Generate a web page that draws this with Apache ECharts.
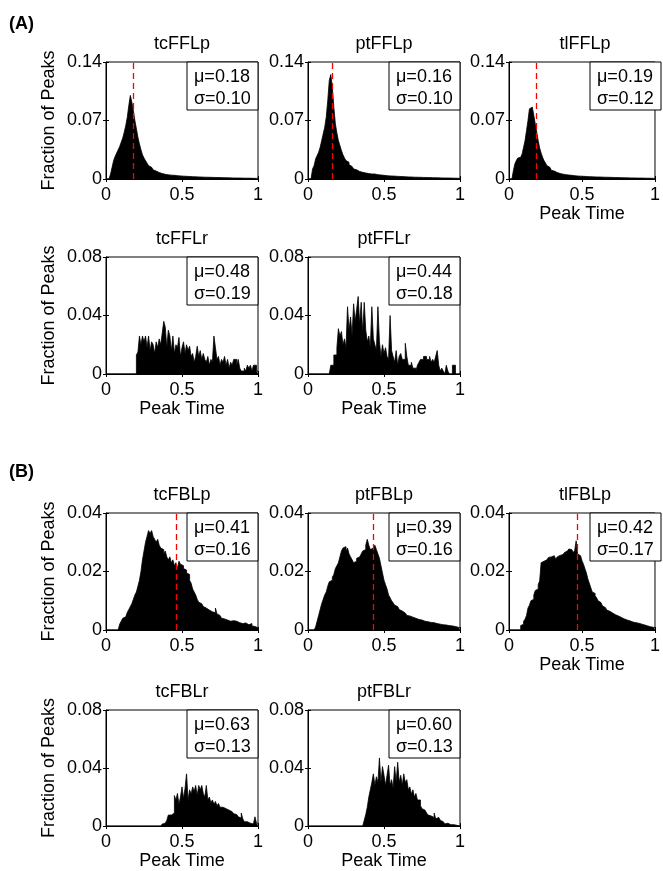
<!DOCTYPE html>
<html>
<head>
<meta charset="utf-8">
<script src="https://cdn.jsdelivr.net/npm/echarts@6/dist/echarts.min.js"></script>
<style>
html, body { margin: 0; padding: 0; background: #fff; }
#chart { width: 663px; height: 871px; }
</style>
</head>
<body>
<div id="chart"></div>
<script>
// bin width of every histogram (bins run 0..1)
var binWidth = 0.01;

var panelNames = ['tcFFLp', 'ptFFLp', 'tlFFLp', 'tcFFLr', 'ptFFLr', 'tcFBLp', 'ptFBLp', 'tlFBLp', 'tcFBLr', 'ptFBLr'];
var muValues = ['0.18', '0.16', '0.19', '0.48', '0.44', '0.41', '0.39', '0.42', '0.63', '0.60'];
var sigmaValues = ['0.10', '0.10', '0.12', '0.19', '0.18', '0.16', '0.16', '0.17', '0.13', '0.13'];
var redLineAt = [0.18, 0.16, 0.19, null, null, 0.46, 0.43, 0.47, null, null];
var xTicks = [0, 0.5, 1];
var yTicksByRow = [[0, 0.07, 0.14], [0, 0.04, 0.08], [0, 0.02, 0.04], [0, 0.04, 0.08]];

var tcFFLp = [0,0,0,0.006,0.014,0.022,0.027,0.031,0.035,0.039,
	0.044,0.049,0.056,0.064,0.074,0.088,0.1,0.092,0.082,0.07,
	0.06,0.05,0.042,0.035,0.029,0.025,0.022,0.019,0.016,0.014,
	0.012,0.011,0.0095,0.0085,0.0078,0.007,0.0065,0.006,0.0056,0.0053,
	0.005,0.0048,0.0046,0.0048,0.0044,0.0042,0.004,0.0038,0.0037,0.0036,
	0.0034,0.0033,0.0032,0.0031,0.003,0.0029,0.0028,0.0027,0.0026,0.0026,
	0.0025,0.0024,0.0023,0.0023,0.0022,0.0021,0.0021,0.002,0.002,0.0019,
	0.0019,0.0018,0.0018,0.0017,0.0017,0.0016,0.0016,0.0015,0.0015,0.0014,
	0.0014,0.0014,0.0013,0.0013,0.0012,0.0012,0.0012,0.0011,0.0011,0.0011,
	0.001,0.001,0.001,0.0009,0.0009,0.0009,0.0008,0.0008,0.0008,0.0007];

var ptFFLp = [0,0,0,0.012,0.016,0.024,0.028,0.032,0.038,0.046,
	0.054,0.062,0.074,0.094,0.118,0.125,0.11,0.086,0.066,0.055,
	0.046,0.04,0.034,0.029,0.025,0.022,0.02,0.017,0.015,0.013,
	0.012,0.011,0.01,0.009,0.0085,0.008,0.0076,0.0072,0.0068,0.0065,
	0.0062,0.006,0.0058,0.006,0.0055,0.0052,0.005,0.0048,0.0046,0.0044,
	0.0042,0.004,0.0038,0.0037,0.0036,0.0035,0.0034,0.0033,0.0032,0.0031,
	0.003,0.0029,0.0028,0.0027,0.0026,0.0025,0.0024,0.0024,0.0023,0.0022,
	0.0022,0.0021,0.0021,0.002,0.002,0.0019,0.0019,0.0018,0.0018,0.0017,
	0.0017,0.0016,0.0016,0.0015,0.0015,0.0014,0.0014,0.0013,0.0013,0.0012,
	0.0012,0.0012,0.0011,0.0011,0.001,0.001,0.001,0.0009,0.0009,0.0008];

var tlFFLp = [0,0,0,0.01,0.018,0.022,0.025,0.026,0.028,0.03,
	0.038,0.046,0.058,0.07,0.084,0.086,0.087,0.076,0.066,0.056,
	0.046,0.037,0.031,0.026,0.022,0.019,0.016,0.014,0.012,0.0105,
	0.0095,0.0085,0.0078,0.0072,0.0066,0.0062,0.0058,0.0055,0.0052,0.005,
	0.0048,0.0046,0.0044,0.0042,0.004,0.0038,0.0036,0.0035,0.0034,0.0033,
	0.0032,0.0031,0.003,0.0029,0.0028,0.0027,0.0027,0.0026,0.0025,0.0025,
	0.0024,0.0024,0.0023,0.0023,0.0022,0.0022,0.0021,0.0021,0.002,0.002,
	0.0019,0.0019,0.0018,0.0018,0.0017,0.0017,0.0016,0.0016,0.0015,0.0015,
	0.0014,0.0014,0.0013,0.0013,0.0013,0.0012,0.0012,0.0012,0.0011,0.0011,
	0.0011,0.001,0.001,0.001,0.0009,0.0009,0.0009,0.0008,0.0008,0.0008];

var tcFFLr = [0,0,0,0,0,0,0,0,0,0,
	0,0,0,0,0,0,0,0,0,0,
	0.013,0.015,0.026,0.02,0.026,0.022,0.026,0.018,0.026,0.016,
	0.022,0.02,0.014,0.022,0.018,0.024,0.02,0.028,0.036,0.032,
	0.018,0.03,0.026,0.016,0.026,0.014,0.02,0.018,0.025,0.012,
	0.018,0.022,0.014,0.02,0.016,0.019,0.012,0.014,0.008,0.012,
	0.019,0.012,0.016,0.01,0.014,0.01,0.008,0.012,0.006,0.01,
	0.008,0.026,0.018,0.01,0.012,0.006,0.01,0.008,0.012,0.006,
	0.01,0.004,0.008,0.006,0.01,0.01,0.006,0.01,0.004,0.002,
	0.002,0.004,0.002,0.006,0.004,0.006,0.002,0.006,0.006,0.002];

var ptFFLr = [0,0,0,0,0,0,0,0,0,0,
	0,0,0,0,0,0.006,0.006,0.013,0.013,0.018,
	0.031,0.026,0.029,0.02,0.024,0.018,0.046,0.03,0.039,0.026,
	0.048,0.036,0.044,0.053,0.034,0.049,0.028,0.049,0.03,0.022,
	0.026,0.018,0.046,0.024,0.02,0.016,0.046,0.022,0.012,0.02,
	0.014,0.018,0.012,0.01,0.04,0.016,0.012,0.008,0.016,0.006,
	0.012,0.014,0.01,0.01,0.021,0.012,0.006,0.006,0.008,0.004,
	0.004,0.002,0.006,0.008,0.01,0.01,0.012,0.012,0.01,0.01,
	0.012,0.008,0.01,0.008,0.012,0.016,0.006,0.002,0.004,0.002,
	0,0.006,0.002,0,0,0.006,0.006,0,0,0];

var tcFBLp = [0,0,0,0,0,0,0,0,0,0.002,
	0.003,0.004,0.0045,0.005,0.006,0.007,0.008,0.009,0.0105,0.012,
	0.013,0.015,0.017,0.02,0.024,0.027,0.03,0.032,0.034,0.033,
	0.034,0.032,0.031,0.03,0.031,0.029,0.028,0.0275,0.026,0.027,
	0.025,0.024,0.025,0.023,0.024,0.022,0.023,0.021,0.0235,0.0225,
	0.022,0.021,0.0205,0.0195,0.019,0.017,0.016,0.014,0.013,0.012,
	0.0105,0.0095,0.009,0.0085,0.008,0.0075,0.007,0.0068,0.0065,0.0062,
	0.006,0.0059,0.0075,0.0055,0.005,0.0045,0.004,0.0038,0.0035,0.0034,
	0.0032,0.003,0.003,0.0032,0.0028,0.003,0.0026,0.0025,0.0027,0.0022,
	0.002,0.0024,0.002,0.0018,0.0016,0.0022,0.0014,0.0012,0.001,0.0008];

var ptFBLp = [0,0,0,0,0,0.001,0.003,0.005,0.007,0.009,
	0.0105,0.012,0.013,0.015,0.0165,0.017,0.018,0.019,0.021,0.022,
	0.023,0.025,0.027,0.028,0.0285,0.027,0.028,0.026,0.025,0.024,
	0.023,0.0235,0.0245,0.025,0.0245,0.026,0.027,0.0275,0.029,0.031,
	0.029,0.0275,0.028,0.028,0.029,0.0275,0.026,0.0245,0.022,0.0195,
	0.017,0.0155,0.014,0.012,0.011,0.01,0.0093,0.0085,0.008,0.0075,
	0.007,0.0065,0.006,0.0058,0.0055,0.005,0.0048,0.0046,0.0044,0.0042,
	0.004,0.0038,0.0036,0.0035,0.0034,0.0032,0.003,0.0031,0.0028,0.0027,
	0.0026,0.0025,0.0025,0.0024,0.0022,0.0021,0.002,0.0019,0.0018,0.0018,
	0.0017,0.0016,0.0015,0.0015,0.0014,0.0013,0.0012,0.001,0.0009,0.0008];

var tlFBLp = [0,0,0,0,0,0,0,0,0.0015,0.002,
	0.003,0.0037,0.005,0.0075,0.0085,0.01,0.0105,0.012,0.0135,0.014,
	0.0155,0.0168,0.023,0.0235,0.0237,0.024,0.0245,0.0248,0.025,0.0252,
	0.0254,0.025,0.0242,0.025,0.0255,0.026,0.0258,0.0262,0.0265,0.027,
	0.0272,0.0277,0.0275,0.027,0.0265,0.0272,0.0305,0.026,0.0254,0.025,
	0.0237,0.0225,0.021,0.0195,0.0175,0.016,0.0145,0.013,0.0125,0.0117,
	0.011,0.01,0.0094,0.0088,0.0082,0.0077,0.0072,0.0068,0.0064,0.006,
	0.0058,0.0055,0.0052,0.005,0.0048,0.0046,0.0043,0.004,0.0038,0.0036,
	0.0034,0.003,0.0031,0.0029,0.0027,0.0026,0.0025,0.0024,0.0023,0.0022,
	0.002,0.0019,0.0017,0.0016,0.0014,0.0012,0.0011,0.001,0.0009,0.0008];

var tcFBLr = [0,0,0,0,0,0,0,0,0,0,
	0,0,0,0,0,0,0,0,0,0,
	0,0,0,0,0,0,0,0,0,0,
	0,0,0,0,0,0,0,0.0014,0.002,0.003,
	0.004,0.0076,0.0076,0.0087,0.009,0.021,0.018,0.0225,0.015,0.02,
	0.027,0.019,0.026,0.036,0.018,0.025,0.022,0.027,0.024,0.028,
	0.021,0.028,0.025,0.028,0.0225,0.02,0.028,0.018,0.02,0.016,
	0.018,0.015,0.017,0.014,0.0156,0.013,0.013,0.012,0.012,0.011,
	0.011,0.01,0.0099,0.009,0.0085,0.008,0.007,0.0064,0.0055,0.009,
	0.005,0.003,0.003,0.0025,0.002,0.0018,0.0015,0.001,0.0064,0.002];

var ptFBLr = [0,0,0,0,0,0,0,0,0,0,
	0,0,0,0,0,0,0,0,0,0,
	0,0,0,0,0,0,0,0,0,0,
	0,0,0,0,0,0,0,0.004,0.008,0.013,
	0.02,0.025,0.03,0.036,0.028,0.034,0.03,0.047,0.03,0.041,
	0.035,0.028,0.035,0.042,0.028,0.032,0.026,0.041,0.03,0.044,
	0.03,0.035,0.028,0.036,0.03,0.032,0.025,0.027,0.022,0.025,
	0.02,0.0225,0.018,0.018,0.014,0.012,0.011,0.0099,0.009,0.0076,
	0.007,0.0064,0.006,0.009,0.005,0.006,0.005,0.004,0.003,0.002,
	0.0015,0.002,0.001,0.001,0.0005,0.001,0.0005,0.0005,0,0];

var panelData = [tcFFLp, ptFFLp, tlFFLp, tcFFLr, ptFFLr, tcFBLp, ptFBLp, tlFBLp, tcFBLr, ptFBLr];

// layout
var panelRow = [0, 0, 0, 1, 1, 2, 2, 2, 3, 3];
var panelCol = [0, 1, 2, 0, 1, 0, 1, 2, 0, 1];
var showPeakTime = [false, false, true, true, true, false, false, true, true, true];
var colLeft = [106, 308, 509];
var rowTop = [62, 257, 513, 710];
var boxW = 152, boxH = 117;
var FONT = '"Liberation Sans", Arial, Helvetica, sans-serif';
var FS = 18;

var chart = echarts.init(document.getElementById('chart'), null, { renderer: 'canvas' });

function tickFmt(v) {
	return v === 0 ? '0' : String(+v.toFixed(2));
}

var grid = [], xAxis = [], yAxis = [], series = [], graphic = [];

for (var p = 0; p < panelNames.length; p++) {
	var r = panelRow[p], c = panelCol[p];
	var L = colLeft[c], T = rowTop[r];
	var yt = yTicksByRow[r];

	grid.push({
		left: L, top: T, width: boxW, height: boxH,
		show: true, borderColor: '#000', borderWidth: 1, backgroundColor: 'transparent'
	});

	// bottom x axis (labels)
	var xi = xAxis.length;
	xAxis.push({
		type: 'value', gridIndex: p, min: xTicks[0], max: xTicks[2], interval: xTicks[1],
		name: showPeakTime[p] ? 'Peak Time' : '',
		nameLocation: 'middle', nameGap: 25,
		nameTextStyle: { color: '#000', fontSize: FS, fontFamily: FONT },
		axisLine: { show: true, onZero: false, lineStyle: { color: '#000', width: 1 } },
		axisTick: { show: true, inside: true, length: 3, lineStyle: { color: '#000' } },
		splitLine: { show: false },
		axisLabel: { color: '#000', fontSize: FS, fontFamily: FONT, margin: 7, formatter: tickFmt }
	});
	// top x axis (ticks only)
	xAxis.push({
		type: 'value', gridIndex: p, position: 'top', min: xTicks[0], max: xTicks[2], interval: xTicks[1],
		axisLine: { show: false }, splitLine: { show: false }, axisLabel: { show: false },
		axisTick: { show: true, inside: true, length: 3, lineStyle: { color: '#000' } }
	});

	var yi = yAxis.length;
	yAxis.push({
		type: 'value', gridIndex: p, min: yt[0], max: yt[2], interval: yt[1],
		name: c === 0 ? 'Fraction of Peaks' : '',
		nameLocation: 'middle', nameGap: 48, nameRotate: 90,
		nameTextStyle: { color: '#000', fontSize: FS, fontFamily: FONT },
		axisLine: { show: true, onZero: false, lineStyle: { color: '#000', width: 1 } },
		axisTick: { show: true, inside: true, length: 3, lineStyle: { color: '#000' } },
		splitLine: { show: false },
		axisLabel: { color: '#000', fontSize: FS, fontFamily: FONT, margin: 4, formatter: tickFmt }
	});
	yAxis.push({
		type: 'value', gridIndex: p, position: 'right', min: yt[0], max: yt[2], interval: yt[1],
		axisLine: { show: false }, splitLine: { show: false }, axisLabel: { show: false },
		axisTick: { show: true, inside: true, length: 3, lineStyle: { color: '#000' } }
	});

	// bins -> step outline: left edge of every bin, then the right edge of the last one
	var bins = panelData[p];
	var data = [];
	for (var i = 0; i < bins.length; i++) {
		data.push([i * binWidth, bins[i]]);
	}
	data.push([bins.length * binWidth, bins[bins.length - 1]]);

	var s = {
		type: 'line', name: panelNames[p], xAxisIndex: xi, yAxisIndex: yi,
		data: data, step: 'end', showSymbol: false, symbol: 'none',
		lineStyle: { color: '#000', width: 0.8 },
		areaStyle: { color: '#000', opacity: 1 },
		silent: true
	};
	if (redLineAt[p] !== null) {
		s.markLine = {
			silent: true, symbol: ['none', 'none'], label: { show: false },
			lineStyle: { color: '#ff0000', type: [6, 4], width: 1.3 },
			data: [{ xAxis: redLineAt[p] }]
		};
	}
	series.push(s);

	// panel title
	graphic.push({
		type: 'text', x: L + boxW / 2, y: T - 18, z: 100,
		style: { text: panelNames[p], fill: '#000', fontSize: FS, fontFamily: FONT,
			align: 'center', verticalAlign: 'middle', textAlign: 'center', textVerticalAlign: 'middle' }
	});
	// mu / sigma box
	graphic.push({
		type: 'rect', z: 100,
		shape: { x: L + boxW - 71, y: T, width: 71, height: 48 },
		style: { fill: '#fff', stroke: '#000', lineWidth: 1 }
	});
	graphic.push({
		type: 'text', x: L + boxW - 64, y: T + 15, z: 101,
		style: { text: '\u03bc=' + muValues[p], fill: '#000', fontSize: FS, fontFamily: FONT,
			align: 'left', verticalAlign: 'middle', textAlign: 'left', textVerticalAlign: 'middle' }
	});
	graphic.push({
		type: 'text', x: L + boxW - 64, y: T + 37, z: 101,
		style: { text: '\u03c3=' + sigmaValues[p], fill: '#000', fontSize: FS, fontFamily: FONT,
			align: 'left', verticalAlign: 'middle', textAlign: 'left', textVerticalAlign: 'middle' }
	});
}

// section labels
graphic.push({
	type: 'text', x: 9, y: 24, z: 100,
	style: { text: '(A)', fill: '#000', fontSize: FS, fontWeight: 'bold', fontFamily: FONT,
		align: 'left', verticalAlign: 'middle', textAlign: 'left', textVerticalAlign: 'middle' }
});
graphic.push({
	type: 'text', x: 9, y: 472, z: 100,
	style: { text: '(B)', fill: '#000', fontSize: FS, fontWeight: 'bold', fontFamily: FONT,
		align: 'left', verticalAlign: 'middle', textAlign: 'left', textVerticalAlign: 'middle' }
});

chart.setOption({
	animation: false,
	backgroundColor: '#fff',
	grid: grid,
	xAxis: xAxis,
	yAxis: yAxis,
	series: series,
	graphic: graphic
});
</script>
</body>
</html>
